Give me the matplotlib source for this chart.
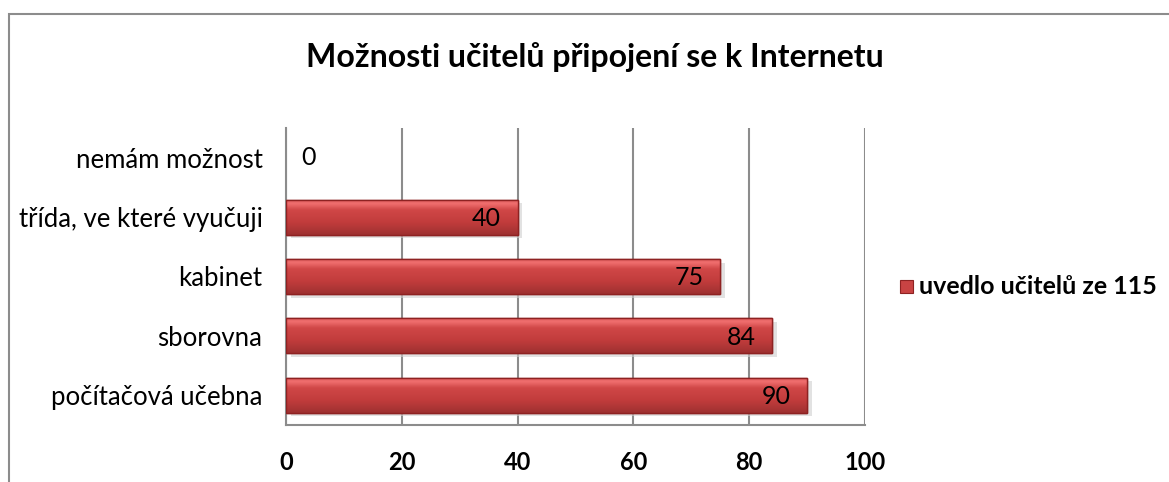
import matplotlib
matplotlib.use("Agg")
import matplotlib.pyplot as plt
import numpy as np
from matplotlib.patches import Rectangle
from matplotlib.colors import LinearSegmentedColormap

plt.rcParams['font.family'] = ['Lato', 'DejaVu Sans']

categories = ["počítačová učebna", "sborovna", "kabinet", "třída, ve které vyučuji", "nemám možnost"]
values = [90, 84, 75, 40, 0]
series_name = "uvedlo učitelů ze 115"
title = "Možnosti učitelů připojení se k Internetu"
xticks = [0, 20, 40, 60, 80, 100]

W, H = 1169, 482
fig = plt.figure(figsize=(W/100, H/100), dpi=100)
fig.patch.set_facecolor("white")

# outer chart border
fig.add_artist(Rectangle((8.5/W, -0.01), 1.2, 1 - 13.5/H + 0.01, transform=fig.transFigure,
                         fill=False, edgecolor="#8c8c8c", linewidth=1.5))

ax = fig.add_axes([286/W, 1 - 425/H, (865-286)/W, (425-128)/H])
ax.set_xlim(0, 100)
ax.set_ylim(-0.5, len(categories) - 0.5)

for s in ["top", "right"]:
    ax.spines[s].set_visible(False)
ax.spines["left"].set_color("#8c8c8c")
ax.spines["bottom"].set_color("#8c8c8c")
ax.spines["left"].set_linewidth(1.5)
ax.spines["bottom"].set_linewidth(1.5)

ax.set_xticks(xticks)
ax.xaxis.grid(True, color="#8c8c8c", linewidth=1.5)
ax.set_axisbelow(True)
ax.tick_params(axis="both", length=0)
ax.tick_params(axis="x", pad=19, labelsize=17)
ax.tick_params(axis="y", pad=17, labelsize=18.5)
for lab in ax.get_xticklabels():
    lab.set_fontweight("bold")

ypos = np.arange(len(categories))
ax.set_yticks(ypos)
ax.set_yticklabels(categories)

bh = 0.59
lw = [1.0 if v > 0 else 0 for v in values]
# shadow
ax.barh(ypos - 0.06, values, height=bh, left=0.8, color="#d0d0d0", alpha=0.6, zorder=2, linewidth=0)
bars = ax.barh(ypos, values, height=bh, color="#c94343", edgecolor="#8e2222", linewidth=lw, zorder=3)

cmap = LinearSegmentedColormap.from_list("bev", [(0, "#9e3030"), (0.35, "#c13c3c"), (0.7, "#d04747"), (0.88, "#f17070"), (1.0, "#d45050")])
grad = np.linspace(0, 1, 256).reshape(-1, 1)
for b in bars:
    if b.get_width() <= 0:
        continue
    x0, y0, w, h = b.get_x(), b.get_y(), b.get_width(), b.get_height()
    im = ax.imshow(grad, extent=(x0, x0 + w, y0, y0 + h), origin="lower", aspect="auto",
                   cmap=cmap, zorder=3.5, interpolation="bicubic")
    im.set_clip_path(b)
    ax.add_patch(Rectangle((x0, y0), w, h, fill=False, edgecolor="#8e2222", linewidth=1.0, zorder=4))

for y, v in zip(ypos, values):
    if v > 0:
        ax.annotate(str(v), (v, y), xytext=(-12, -1), textcoords="offset points",
                    ha="right", va="center", fontsize=18, color="black", zorder=5)
    else:
        ax.annotate(str(v), (v, y), xytext=(11, 0), textcoords="offset points",
                    ha="left", va="center", fontsize=18, color="black", zorder=5)

fig.text(595/W, 1 - 57/H, title, ha="center", va="center", fontsize=23, fontweight="bold")

# legend
fig.add_artist(Rectangle((900/W, 1 - 293/H), 13/W, 13/H, transform=fig.transFigure,
                         facecolor="#c94343", edgecolor="#8e2222", linewidth=0.8))
fig.text(919/W, 1 - 286/H, series_name, ha="left", va="center", fontsize=18, fontweight="bold")

fig.savefig("out.png", dpi=100)
